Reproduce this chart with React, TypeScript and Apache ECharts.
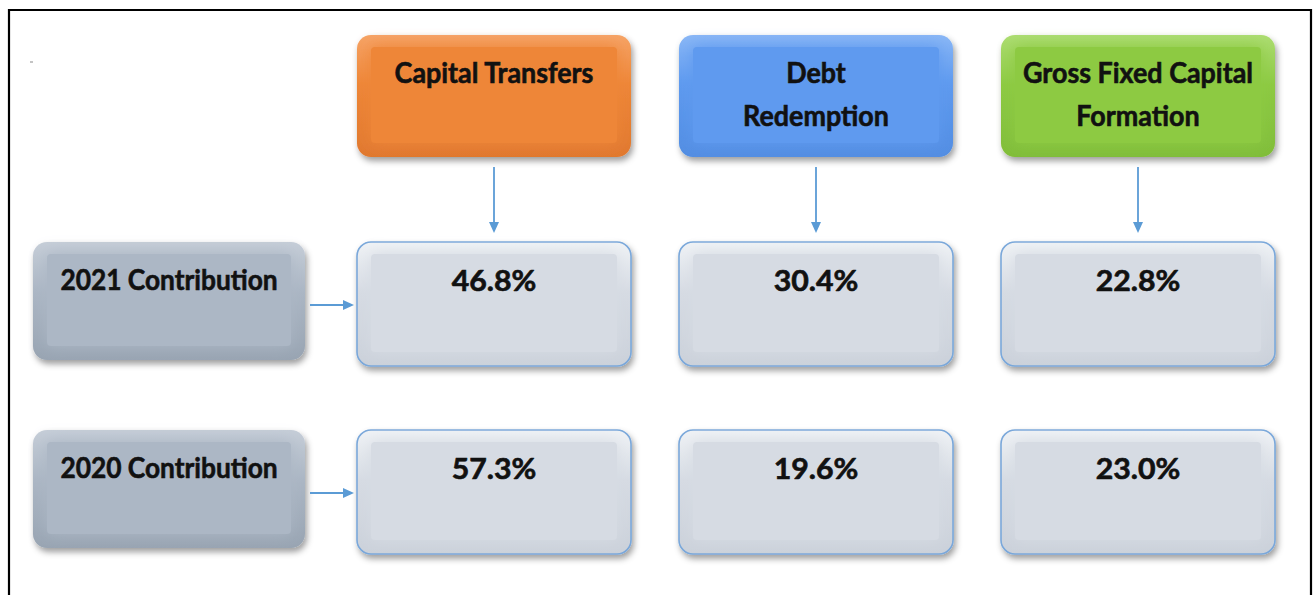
import React, { useEffect, useRef } from 'react';
import * as echarts from 'echarts';

// ---- data ----
const categories = ['Capital Transfers', 'Debt\nRedemption', 'Gross Fixed Capital\nFormation'];
const years = ['2021 Contribution', '2020 Contribution'];
const share2021 = [46.8, 30.4, 22.8];
const share2020 = [57.3, 19.6, 23.0];

// ---- styles / layout ----
const W = 1313;
const H = 595;
const headerPalette = [
  { top: '#F6A468', face: '#EE8638', bottom: '#E0782F' },
  { top: '#8AB7F6', face: '#5E9AEF', bottom: '#528DE2' },
  { top: '#ADDD73', face: '#8DCA43', bottom: '#80BD3A' },
];
const labelPalette = { top: '#C6CED8', face: '#ACB7C5', bottom: '#98A4B2' };
const valuePalette = { top: '#F0F3F6', face: '#D6DBE3', bottom: '#CBD1DA' };
const ARROW = '#5B9BD5';
const BOX_W = 274;
const HEADER_H = 122;
const HEADER_SHIFT = -208;
const VALUE_H = 124;
const LABEL_W = 272;
const LABEL_H = 118;
const FONT = {
  fontFamily: 'Lato',
  fontWeight: 'bold' as const,
  fontSize: 28,
  fill: '#111',
  stroke: '#111',
  lineWidth: 0.6,
};
const HEADER_SCALE_X = 0.96;
const LABEL_SCALE_X = 0.94;
const VALUE_SCALE_X = 1.08;

function bevelBox(cx: number, cy: number, w: number, h: number, pal: any, stroke?: string) {
  const x = cx - w / 2;
  const y = cy - h / 2;
  return [
    {
      type: 'rect',
      shape: { x, y, width: w, height: h, r: 14 },
      style: {
        fill: new echarts.graphic.LinearGradient(0, 0, 0, 1, [
          { offset: 0, color: pal.top },
          { offset: 0.4, color: pal.face },
          { offset: 1, color: pal.bottom },
        ]),
        stroke: stroke || 'none',
        lineWidth: stroke ? 1.6 : 0,
        shadowBlur: 6,
        shadowOffsetX: 2,
        shadowOffsetY: 4,
        shadowColor: 'rgba(0,0,0,0.38)',
      },
    },
    {
      type: 'rect',
      shape: { x: x + 14, y: y + 12, width: w - 28, height: h - 26, r: 4 },
      style: { fill: pal.face, shadowBlur: 16, shadowColor: pal.face },
    },
  ];
}

function boxText(cx: number, topY: number, text: string, sx: number) {
  return {
    type: 'text',
    x: cx,
    y: topY,
    scaleX: sx,
    style: {
      text,
      ...FONT,
      lineHeight: 43,
      align: 'center',
      verticalAlign: 'top',
    },
  };
}

function arrowDown(x: number, y1: number, y2: number) {
  return [
    { type: 'line', shape: { x1: x, y1, x2: x, y2: y2 - 9 }, style: { stroke: ARROW, lineWidth: 1.8 } },
    {
      type: 'polygon',
      shape: { points: [[x - 5, y2 - 11], [x + 5, y2 - 11], [x, y2]] },
      style: { fill: ARROW },
    },
  ];
}

function arrowRight(y: number, x1: number, x2: number) {
  return [
    { type: 'line', shape: { x1, y1: y, x2: x2 - 9, y2: y }, style: { stroke: ARROW, lineWidth: 1.8 } },
    {
      type: 'polygon',
      shape: { points: [[x2 - 11, y - 5], [x2 - 11, y + 5], [x2, y]] },
      style: { fill: ARROW },
    },
  ];
}

export default function App() {
  const ref = useRef<HTMLDivElement>(null);
  useEffect(() => {
    if (!ref.current) return;
    const chart = echarts.init(ref.current, undefined, { renderer: 'svg' });

    const headerData = categories.map((_, i) => [i + 1, 0]);
    const labelData = years.map((_, i) => [0, i]);
    const valueData: number[][] = [];
    share2021.forEach((v, i) => valueData.push([i + 1, 0, v]));
    share2020.forEach((v, i) => valueData.push([i + 1, 1, v]));

    chart.setOption({
      animation: false,
      backgroundColor: '#ffffff',
      grid: { left: 11, right: 14, top: 210, bottom: 9 },
      xAxis: { type: 'category', data: ['', ...categories], show: false },
      yAxis: { type: 'category', data: years, inverse: true, show: false },
      graphic: [
        {
          type: 'rect',
          shape: { x: 9, y: 10, width: 1302, height: 600 },
          style: { fill: 'none', stroke: '#000', lineWidth: 2.2 },
          silent: true,
        },
        { type: 'rect', shape: { x: 30, y: 61.5, width: 3, height: 1 }, style: { fill: '#888' } },
      ],
      series: [
        {
          type: 'custom',
          name: 'headers',
          data: headerData,
          renderItem: (params: any, api: any) => {
            const [cx, cy0] = api.coord([api.value(0), api.value(1)]);
            const cy = cy0 + HEADER_SHIFT;
            const top = cy - HEADER_H / 2;
            const rowTop = cy0 - VALUE_H / 2;
            return {
              type: 'group',
              children: [
                ...bevelBox(cx, cy, BOX_W, HEADER_H, headerPalette[params.dataIndex]),
                boxText(cx, top + 16, categories[params.dataIndex], HEADER_SCALE_X),
                ...arrowDown(cx, top + HEADER_H + 10, rowTop - 9),
              ],
            };
          },
        },
        {
          type: 'custom',
          name: 'years',
          data: labelData,
          renderItem: (params: any, api: any) => {
            const [cx0, cy0] = api.coord([api.value(0), api.value(1)]);
            const cx = cx0 - 3;
            const cy = cy0 - 3;
            const top = cy - LABEL_H / 2;
            const [vx] = api.coord([1, api.value(1)]);
            return {
              type: 'group',
              children: [
                ...bevelBox(cx, cy, LABEL_W, LABEL_H, labelPalette),
                boxText(cx, top + 16, years[params.dataIndex], LABEL_SCALE_X),
                ...arrowRight(cy0 + 1, cx + LABEL_W / 2 + 5, vx - BOX_W / 2 - 3),
              ],
            };
          },
        },
        {
          type: 'custom',
          name: 'shares',
          data: valueData,
          renderItem: (params: any, api: any) => {
            const [cx, cy] = api.coord([api.value(0), api.value(1)]);
            const top = cy - VALUE_H / 2;
            return {
              type: 'group',
              children: [
                ...bevelBox(cx, cy, BOX_W, VALUE_H, valuePalette, '#79A7DA'),
                boxText(cx, top + 16, api.value(2).toFixed(1) + '%', VALUE_SCALE_X),
              ],
            };
          },
        },
      ],
    });
    return () => chart.dispose();
  }, []);

  return (
    <div
      ref={ref}
      style={{ position: 'fixed', left: 0, top: 0, width: W, height: H, background: '#fff' }}
    />
  );
}
